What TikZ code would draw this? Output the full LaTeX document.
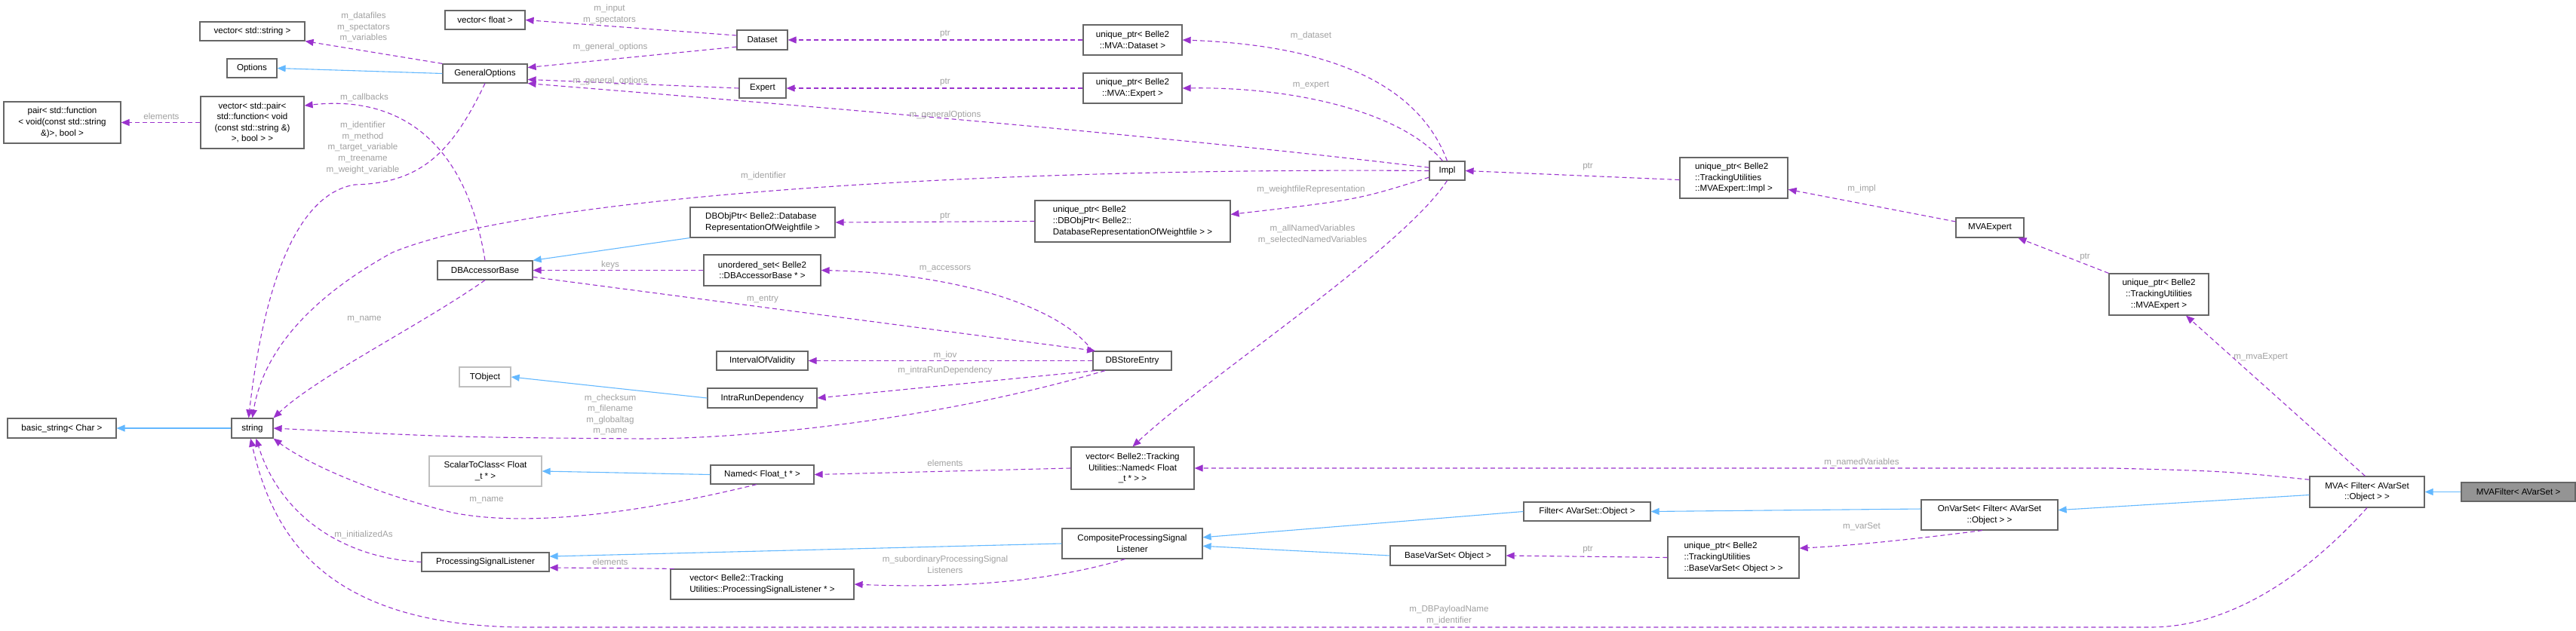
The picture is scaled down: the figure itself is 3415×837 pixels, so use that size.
\documentclass[tikz,border=0pt]{standalone}
\usepackage{fontspec}
\setmainfont{Liberation Sans}
\usetikzlibrary{arrows.meta}
\definecolor{purp}{HTML}{9A32CD}
\definecolor{inh}{HTML}{63B8FF}
\definecolor{bgray}{HTML}{666666}
\definecolor{lgray}{HTML}{BFBFBF}
\definecolor{lbl}{HTML}{A0A0A0}
\newcommand{\Bx}[7][]{\node[box,minimum width=#5pt,minimum height=#6pt,#1] (#2) at (#3,#4) {#7};}
\newcommand{\Lb}[4]{\node[lab] (#1) at (#2,#3) {#4};}
\begin{document}
\begin{tikzpicture}[x=1pt,y=-1pt,
  box/.style={draw=bgray,line width=1.2pt,fill=white,inner sep=1pt,align=center,
    font=\fontsize{11.6}{14.6}\selectfont},
  lab/.style={text=lbl,inner sep=0pt,align=center,font=\fontsize{11.6}{14.6}\selectfont},
  use/.style={draw=purp,line width=1.1pt,dash pattern=on 6pt off 4pt,-{Triangle[length=11pt,width=9pt]}},
  inhe/.style={draw=inh,line width=1.1pt,-{Triangle[length=11pt,width=9pt]}}]
\useasboundingbox (0,0) rectangle (3415,837);
% nodes
\Bx{vecstr}{334.5}{41.5}{139}{25}{vector< std::string >}
\Bx{Options}{334}{90.5}{66}{25}{Options}
\Bx{GO}{643}{97.5}{112}{25}{GeneralOptions}
\Bx{vecfloat}{643}{26.5}{106}{25}{vector< float >}
\Bx{pair}{82.5}{162.5}{155}{55}{pair< std::function\\< void(const std::string\\\&)>, bool >}
\Bx{vecpair}{334.5}{162.5}{137}{69}{vector< std::pair<\\std::function< void\\(const std::string \&)\\>, bool > >}
\Bx{DBA}{643}{358.5}{126}{25}{DBAccessorBase}
\Bx{bstr}{82}{568}{144}{26}{basic\_string< Char >}
\Bx{string}{334.5}{568}{55}{26}{string}
\Bx[draw=lgray]{TObject}{643}{500}{68}{26}{TObject}
\Bx[draw=lgray]{S2C}{643.5}{625}{149}{40}{ScalarToClass< Float\\\_t * >}
\Bx{PSL}{643.5}{745.5}{169}{25}{ProcessingSignalListener}
\Bx{Dataset}{1010.5}{53}{67}{26}{Dataset}
\Bx{Expert}{1011}{117}{62}{26}{Expert}
\Bx{upDataset}{1501.5}{53}{131}{40}{unique\_ptr< Belle2\\::MVA::Dataset >}
\Bx{upExpert}{1501.5}{117}{131}{40}{unique\_ptr< Belle2\\::MVA::Expert >}
\Bx[align=left]{DBObjPtr}{1011}{295}{192}{40}{DBObjPtr< Belle2::Database\\RepresentationOfWeightfile >}
\Bx[align=left]{upDBObjPtr}{1501.5}{293.5}{259}{55}{unique\_ptr< Belle2\\::DBObjPtr< Belle2::\\DatabaseRepresentationOfWeightfile > >}
\Bx{uset}{1010.5}{358.5}{155}{41}{unordered\_set< Belle2\\::DBAccessorBase * >}
\Bx{DBSE}{1501}{478.5}{104}{25}{DBStoreEntry}
\Bx{IOV}{1010.5}{478.5}{121}{25}{IntervalOfValidity}
\Bx{IRD}{1010.5}{528}{145}{26}{IntraRunDependency}
\Bx{Named}{1010.5}{629.5}{137}{25}{Named< Float\_t * >}
\Bx{vecNamed}{1501.5}{621}{163}{56}{vector< Belle2::Tracking\\Utilities::Named< Float\\\_t * > >}
\Bx{CPSL}{1501}{721}{186}{40}{CompositeProcessingSignal\\Listener}
\Bx[align=left]{vecPSL}{1010.5}{775}{243}{40}{vector< Belle2::Tracking\\Utilities::ProcessingSignalListener * >}
\Bx{Impl}{1918.5}{226.5}{47}{25}{Impl}
\Bx[align=left]{upImpl}{2298.5}{236}{143}{54}{unique\_ptr< Belle2\\::TrackingUtilities\\::MVAExpert::Impl >}
\Bx{Filter}{2104}{678.5}{168}{25}{Filter< AVarSet::Object >}
\Bx{BVS}{1919.5}{737}{153}{26}{BaseVarSet< Object >}
\Bx[align=left]{upBVS}{2298}{739.5}{174}{55}{unique\_ptr< Belle2\\::TrackingUtilities\\::BaseVarSet< Object > >}
\Bx{MVAExpert}{2638}{302}{90}{26}{MVAExpert}
\Bx{upMVAExpert}{2862}{390.5}{132}{55}{unique\_ptr< Belle2\\::TrackingUtilities\\::MVAExpert >}
\Bx{MVA}{3138}{652.5}{152}{41}{MVA< Filter< AVarSet\\::Object > >}
\Bx[fill=black!42]{MVAFilter}{3338.5}{652.5}{151}{25}{MVAFilter< AVarSet >}
\Bx{OnVarSet}{2637.5}{683}{181}{40}{OnVarSet< Filter< AVarSet\\::Object > >}
% inheritance
\draw[inhe] (GO.west) -- (Options.east);
\draw[inhe] (string.west) -- (bstr.east);
\draw[inhe] (DBObjPtr.-168) -- (DBA.north east);
\draw[inhe] (IRD.west) -- (TObject.east);
\draw[inhe] (Named.west) -- (S2C.east);
\draw[inhe] (CPSL.west) -- (PSL.5);
\draw[inhe] (Filter.west) -- (CPSL.5);
\draw[inhe] (BVS.west) -- (CPSL.-2.5);
\draw[inhe] (OnVarSet.175) -- (Filter.east);
\draw[inhe] (MVA.183) -- (OnVarSet.4);
\draw[inhe] (MVAFilter.west) -- (MVA.east);
% usage
\draw[use] (GO.north west) -- (vecstr.south east);
\draw[use] (Dataset.170) -- (vecfloat.east);
\draw[use] (Dataset.195) -- (GO.8);
\draw[use] (Expert.west) -- (GO.-8);
\draw[use] (Impl.170) .. controls (1500,175) and (1000,135) .. (GO.south east);
\draw[use] (Impl.west) .. controls (1300,222) and (700,260) .. (520,335) .. controls (420,390) and (350,460) .. (string.north);
\draw[use] (GO.south) .. controls (600,200) and (560,243) .. (470,245) .. controls (380,260) and (345,420) .. (string.110);
\draw[use] (vecpair.west) -- (pair.east);
\draw[use] (DBA.north) .. controls (620,200) and (540,125) .. (vecpair.18);
\draw[use] (DBA.south) .. controls (560,430) and (420,500) .. (string.north east);
\draw[use] (upDataset.west) -- (Dataset.east);
\draw[use] (upExpert.west) -- (Expert.east);
\draw[use] (Impl.north) .. controls (1880,110) and (1760,60) .. (upDataset.east);
\draw[use] (Impl.115) .. controls (1860,150) and (1720,115) .. (upExpert.east);
\draw[use] (Impl.200) .. controls (1800,265) .. (upDBObjPtr.4);
\draw[use] (Impl.south) .. controls (1860,330) and (1600,500) .. (vecNamed.north);
\draw[use] (upDBObjPtr.west) -- (DBObjPtr.east);
\draw[use] (uset.west) -- (DBA.east);
\draw[use] (DBSE.north west) .. controls (1400,400) and (1250,362) .. (uset.east);
\draw[use] (DBA.-8) -- (DBSE.165);
\draw[use] (DBSE.west) -- (IOV.east);
\draw[use] (DBSE.195) -- (IRD.east);
\draw[use] (DBSE.200) .. controls (1250,555) and (1000,582) .. (850,582) .. controls (600,580) .. (string.east);
\draw[use] (vecNamed.west) -- (Named.east);
\draw[use] (Named.-120) .. controls (850,680) and (700,700) .. (600,680) .. controls (480,650) and (400,610) .. (string.south east);
\draw[use] (PSL.west) .. controls (450,740) and (370,680) .. (string.-70);
\draw[use] (vecPSL.170) -- (PSL.-5);
\draw[use] (CPSL.-115) .. controls (1380,775) and (1250,780) .. (vecPSL.east);
\draw[use] (upImpl.182) -- (Impl.east);
\draw[use] (MVAExpert.170) -- (upImpl.-12);
\draw[use] (upMVAExpert.north west) -- (MVAExpert.-20);
\draw[use] (MVA.97) -- (upMVAExpert.-38);
\draw[use] (MVA.168) .. controls (2950,625) .. (2800,621) -- (vecNamed.east);
\draw[use] (OnVarSet.-115) .. controls (2500,720) and (2430,725) .. (upBVS.8);
\draw[use] (upBVS.west) -- (BVS.east);
\draw[use] (MVA.south) .. controls (3060,760) and (2960,832) .. (2850,832) -- (700,832) .. controls (420,832) and (360,700) .. (string.-100);
% labels
\Lb{l1}{482}{36}{m\_datafiles\\m\_spectators\\m\_variables}
\Lb{l2}{808}{19}{m\_input\\m\_spectators}
\Lb{l3}{809}{63}{m\_general\_options}
\Lb{l4}{809}{108}{m\_general\_options}
\Lb{l5}{483}{129}{m\_callbacks}
\Lb{l6}{481}{196}{m\_identifier\\m\_method\\m\_target\_variable\\m\_treename\\m\_weight\_variable}
\Lb{l7}{214}{154}{elements}
\Lb{l8}{809}{351}{keys}
\Lb{l9}{483}{424}{m\_name}
\Lb{l10}{809}{550}{m\_checksum\\m\_filename\\m\_globaltag\\m\_name}
\Lb{l11}{645}{664}{m\_name}
\Lb{l12}{482}{709}{m\_initializedAs}
\Lb{l13}{809}{745}{elements}
\Lb{l14}{1253}{45}{ptr}
\Lb{l15}{1253}{109}{ptr}
\Lb{l16}{1253}{153}{m\_generalOptions}
\Lb{l17}{1012}{233}{m\_identifier}
\Lb{l18}{1253}{287}{ptr}
\Lb{l19}{1253}{357}{m\_accessors}
\Lb{l20}{1011}{397}{m\_entry}
\Lb{l21}{1738}{47}{m\_dataset}
\Lb{l22}{1738}{113}{m\_expert}
\Lb{l23}{1738}{252}{m\_weightfileRepresentation}
\Lb{l24}{1740}{311}{m\_allNamedVariables\\m\_selectedNamedVariables}
\Lb{l25}{1253}{471}{m\_iov}
\Lb{l26}{1253}{491}{m\_intraRunDependency}
\Lb{l27}{1253}{614}{elements}
\Lb{l28}{1253}{749}{m\_subordinaryProcessingSignal\\Listeners}
\Lb{l29}{2105}{221}{ptr}
\Lb{l30}{2468}{251}{m\_impl}
\Lb{l31}{2468}{613}{m\_namedVariables}
\Lb{l32}{2468}{699}{m\_varSet}
\Lb{l33}{2105}{729}{ptr}
\Lb{l34}{1921}{816}{m\_DBPayloadName\\m\_identifier}
\Lb{l35}{2764}{341}{ptr}
\Lb{l36}{2997}{474}{m\_mvaExpert}
\end{tikzpicture}
\end{document}
